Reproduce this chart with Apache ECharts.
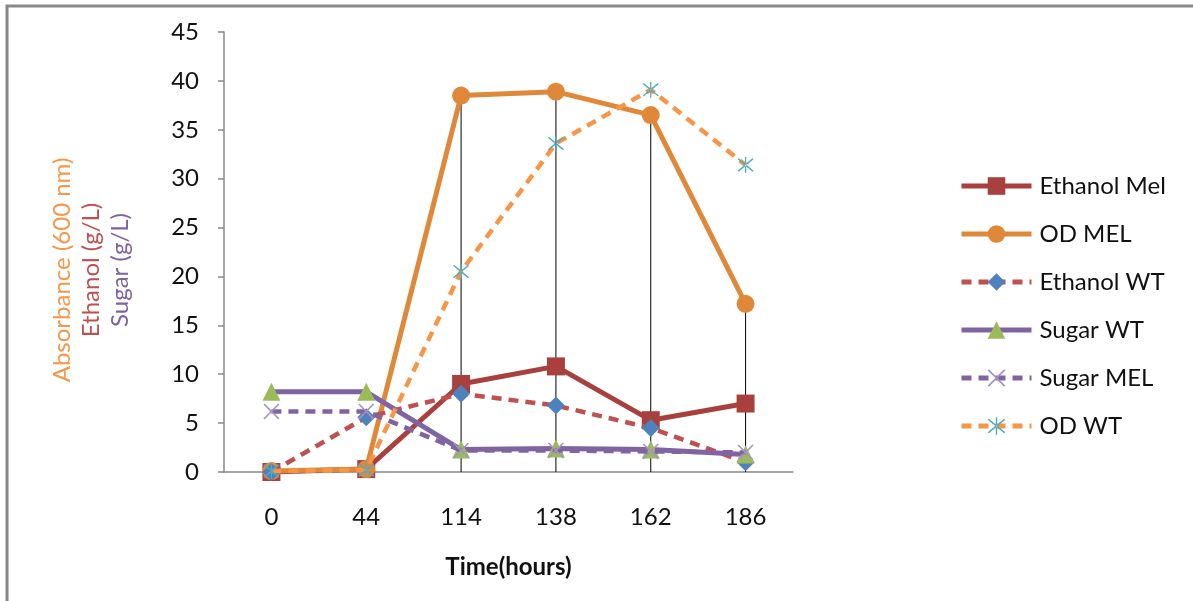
<!DOCTYPE html>
<html>
<head>
<meta charset="utf-8">
<script src="https://cdn.jsdelivr.net/npm/echarts@6/dist/echarts.min.js"></script>
<style>
html,body{margin:0;padding:0;background:#fff;}
#chart{width:1193px;height:601px;}
</style>
</head>
<body>
<div id="chart"></div>
<script>
const categories = ['0', '44', '114', '138', '162', '186'];
const ethanolMel = [0, 0.3, 9.0, 10.8, 5.3, 7.0];
const odMel = [0.1, 0.3, 38.5, 38.9, 36.5, 17.2];
const ethanolWT = [0, 5.6, 8.0, 6.8, 4.5, 1.0];
const sugarWT = [8.2, 8.2, 2.3, 2.4, 2.3, 1.8];
const sugarMel = [6.2, 6.2, 2.2, 2.2, 2.1, 2.0];
const odWT = [0.1, 0.2, 20.5, 33.6, 39.1, 31.4];
const yTicks = {min: 0, max: 45, interval: 5};

const FONT = 'Lato';
const FS = 24;
const xSym = 'path://M0,0.7 L0.7,0 L5,4.3 L9.3,0 L10,0.7 L5.7,5 L10,9.3 L9.3,10 L5,5.7 L0.7,10 L0,9.3 L4.3,5 Z';
const starSym = 'path://M0,0.7 L0.7,0 L5,4.3 L9.3,0 L10,0.7 L5.7,5 L10,9.3 L9.3,10 L5,5.7 L0.7,10 L0,9.3 L4.3,5 Z M4.6,-1 L4.6,11 L5.4,11 L5.4,-1 Z';

function lineSeries(name, data, color, dashed, symbol, symSize, symColor, z) {
  return {
    name: name, type: 'line', data: data, z: z,
    symbol: symbol, symbolSize: symSize,
    lineStyle: dashed
      ? {color: color, width: 4.5, type: [10, 7], cap: 'butt'}
      : {color: color, width: 5, type: 'solid'},
    itemStyle: {color: symColor, opacity: 1},
    emphasis: {disabled: true},
    animation: false
  };
}

const chart = echarts.init(document.getElementById('chart'));
chart.setOption({
  animation: false,
  backgroundColor: '#fff',
  graphic: [{
    type: 'rect', shape: {x: 7, y: 6, width: 1300, height: 700},
    style: {fill: 'none', stroke: '#888', lineWidth: 3}, silent: true, z: -1
  }],
  grid: {left: 224, right: 400, top: 32, bottom: 129},
  legend: {
    orient: 'vertical', left: 954, top: 169,
    itemWidth: 70, itemHeight: 22, itemGap: 24,
    lineStyle: {width: 5},
    textStyle: {fontFamily: FONT, fontSize: FS, color: '#111', padding: [0, 0, 0, 3]},
    data: ['Ethanol Mel', 'OD MEL', 'Ethanol WT', 'Sugar WT', 'Sugar MEL', 'OD WT']
  },
  xAxis: {
    type: 'category', data: categories,
    axisLine: {lineStyle: {color: '#888', width: 1.5}},
    axisTick: {show: false},
    axisLabel: {margin: 33, fontFamily: FONT, fontSize: FS, color: '#111'},
    name: 'Time(hours)', nameLocation: 'middle', nameGap: 83,
    nameTextStyle: {fontFamily: FONT, fontSize: FS, fontWeight: 'bold', color: '#111'}
  },
  yAxis: {
    type: 'value', min: yTicks.min, max: yTicks.max, interval: yTicks.interval,
    splitLine: {show: false},
    axisLine: {show: true, lineStyle: {color: '#888', width: 1.5}},
    axisTick: {show: true, length: 6, lineStyle: {color: '#888', width: 1.5}},
    axisLabel: {margin: 25, fontFamily: FONT, fontSize: FS, color: '#111'},
    name: '{a|Absorbance (600 nm)}\n{b|Ethanol (g/L)}\n{c|Sugar (g/L)}',
    nameLocation: 'middle', nameRotate: 90, nameGap: 89,
    nameTextStyle: {
      fontFamily: FONT, fontSize: FS, lineHeight: 29,
      padding: [0, 36, 0, 0],
      rich: {
        a: {color: '#F79646', fontFamily: FONT, fontSize: FS, lineHeight: 29},
        b: {color: '#C0504D', fontFamily: FONT, fontSize: FS, lineHeight: 29},
        c: {color: '#8064A2', fontFamily: FONT, fontSize: FS, lineHeight: 29}
      }
    }
  },
  series: [
    {
      name: 'drop', type: 'bar', data: odMel, barWidth: 1,
      itemStyle: {color: '#000'}, z: 1, silent: true, animation: false
    },
    lineSeries('Ethanol Mel', ethanolMel, '#A8413D', false, 'rect', 18, '#A8413D', 3),
    lineSeries('OD MEL', odMel, '#E0883A', false, 'circle', 18, '#E0883A', 4),
    lineSeries('Ethanol WT', ethanolWT, '#C0504D', true, 'diamond', 18, '#4F81BD', 5),
    lineSeries('Sugar WT', sugarWT, '#8064A2', false, 'triangle', 18, '#9BBB59', 6),
    lineSeries('Sugar MEL', sugarMel, '#8064A2', true, xSym, 16, '#A593C4', 7),
    lineSeries('OD WT', odWT, '#F79646', true, starSym, 16, '#4BACC6', 8)
  ]
});
</script>
</body>
</html>
